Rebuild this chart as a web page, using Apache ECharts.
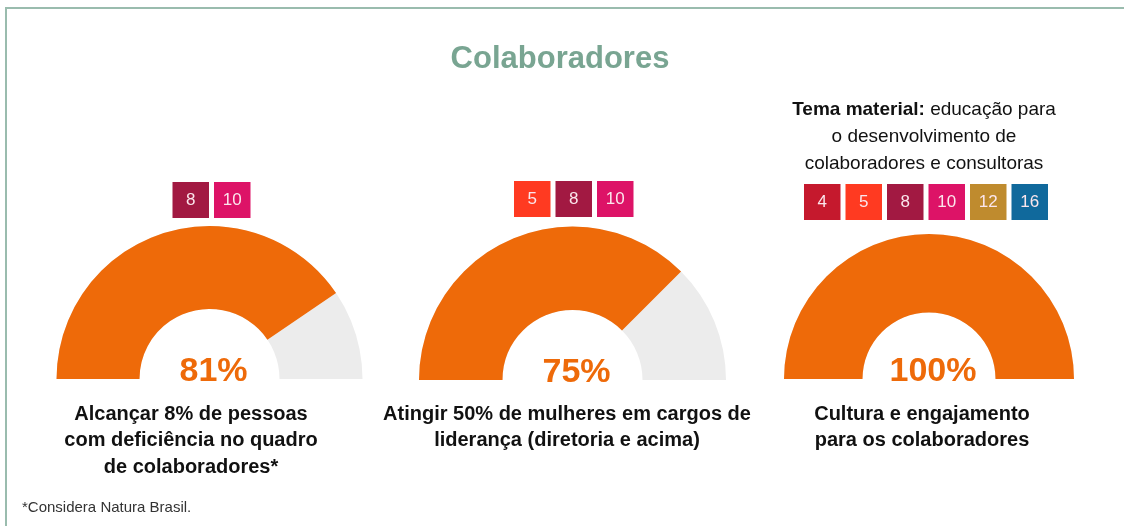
<!DOCTYPE html>
<html>
<head>
<meta charset="utf-8">
<script src="https://cdn.jsdelivr.net/npm/echarts@6/dist/echarts.min.js"></script>
<style>
  html, body { margin: 0; padding: 0; background: #fff; }
  #chart { width: 1124px; height: 526px; }
</style>
</head>
<body>
<div id="chart"></div>
<script>
// dados
var metas = [
  "Alcançar 8% de pessoas\ncom deficiência no quadro\nde colaboradores*",
  "Atingir 50% de mulheres em cargos de\nliderança (diretoria e acima)",
  "Cultura e engajamento\npara os colaboradores"
];
var progresso = [81, 75, 100];
var ods = [[8, 10], [5, 8, 10], [4, 5, 8, 10, 12, 16]];
var temaMaterial = "{b|Tema material:} educação para\no desenvolvimento de\ncolaboradores e consultoras";
var rodape = "*Considera Natura Brasil.";

// cores dos ODS
var corOds = { 4: "#C5192D", 5: "#FF3A21", 8: "#A21942", 10: "#DD1367", 12: "#BF8B2E", 16: "#10699C" };

var laranja = "#EE6A09";
var cinza = "#ECECEC";
var fonte = "'Liberation Sans'";

// posição de cada medidor
var gauges = [
  { cx: 209.5, cy: 379, r: 153, w: 83, textX: 191, badgeX: 172.5, badgeY: 182 },
  { cx: 572.5, cy: 380, r: 153.5, w: 83.5, textX: 567, badgeX: 514, badgeY: 181 },
  { cx: 929, cy: 379, r: 145, w: 78.5, textX: 922, badgeX: 804, badgeY: 184 }
];

var chart = echarts.init(document.getElementById("chart"));

var series = gauges.map(function (g, i) {
  return {
    type: "gauge",
    center: [g.cx, g.cy],
    radius: g.r,
    startAngle: 180,
    endAngle: 0,
    min: 0,
    max: 100,
    animation: false,
    axisLine: { lineStyle: { width: g.w, color: [[1, cinza]] } },
    progress: { show: true, width: g.w, roundCap: false, itemStyle: { color: laranja } },
    pointer: { show: false },
    anchor: { show: false },
    axisTick: { show: false },
    splitLine: { show: false },
    axisLabel: { show: false },
    title: { show: false },
    detail: {
      offsetCenter: [4, -7],
      formatter: "{value}%",
      color: laranja,
      fontSize: 34,
      fontWeight: "bold",
      fontFamily: "Liberation Sans"
    },
    data: [{ value: progresso[i] }]
  };
});

var graphic = [
  // moldura
  {
    type: "polyline",
    shape: { points: [[6, 526], [6, 8], [1124, 8]] },
    style: { stroke: "#9ABCAE", lineWidth: 2, fill: null }
  },
  {
    type: "text",
    x: 560, y: 59,
    style: {
      text: "Colaboradores",
      fill: "#79A592",
      font: "bold 31px " + fonte,
      textAlign: "center",
      textVerticalAlign: "middle"
    }
  },
  {
    type: "text",
    x: 924, y: 137,
    style: {
      text: temaMaterial,
      fill: "#111",
      font: "19px " + fonte,
      lineHeight: 27,
      textAlign: "center",
      textVerticalAlign: "middle",
      rich: { b: { fontWeight: "bold", fontSize: 19, fontFamily: "Liberation Sans", fill: "#111" } }
    }
  },
  {
    type: "text",
    x: 22, y: 508,
    style: {
      text: rodape,
      fill: "#333",
      font: "15px " + fonte,
      textVerticalAlign: "middle"
    }
  }
];

gauges.forEach(function (g, i) {
  graphic.push({
    type: "text",
    x: g.textX, y: 401,
    style: {
      text: metas[i],
      fill: "#111",
      font: "bold 20px " + fonte,
      lineHeight: 26.5,
      textAlign: "center",
      textVerticalAlign: "top"
    }
  });
  ods[i].forEach(function (n, j) {
    var x = g.badgeX + j * 41.5;
    graphic.push({
      type: "rect",
      shape: { x: x, y: g.badgeY, width: 36.5, height: 36 },
      style: { fill: corOds[n] }
    });
    graphic.push({
      type: "text",
      x: x + 18.25, y: g.badgeY + 18.5,
      style: {
        text: String(n),
        fill: "#FBE6EC",
        font: "17px " + fonte,
        textAlign: "center",
        textVerticalAlign: "middle"
      }
    });
  });
});

chart.setOption({
  animation: false,
  series: series,
  graphic: graphic
});
</script>
</body>
</html>
